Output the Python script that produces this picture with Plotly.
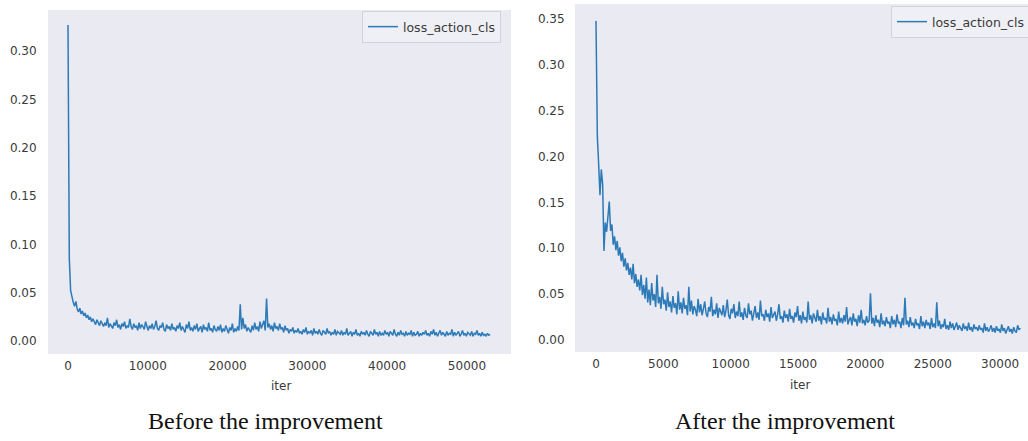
import plotly.graph_objects as go

# ---------------- data ----------------
series_name = "loss_action_cls"
x_title = "iter"
captions = ["Before the improvement", "After the improvement"]

before_last_iter = 52900
before_loss = [
    0.327, 0.085, 0.052, 0.044, 0.040, 0.036, 0.041, 0.033, 0.030, 0.034, 0.028, 0.031, 0.026, 0.029, 0.024, 0.027,
    0.022, 0.025, 0.020, 0.023, 0.019, 0.017, 0.022, 0.018, 0.016, 0.021, 0.017, 0.015, 0.019, 0.016, 0.024, 0.014,
    0.018, 0.015, 0.013, 0.019, 0.016, 0.022, 0.014, 0.017, 0.012, 0.018, 0.015, 0.020, 0.013, 0.016, 0.014, 0.023,
    0.015, 0.012, 0.018, 0.014, 0.016, 0.011, 0.019, 0.013, 0.017, 0.015, 0.012, 0.020, 0.014, 0.011, 0.016, 0.013,
    0.018, 0.012, 0.015, 0.021, 0.013, 0.011, 0.016, 0.014, 0.019, 0.012, 0.010, 0.017, 0.013, 0.015, 0.011, 0.018,
    0.012, 0.014, 0.010, 0.016, 0.013, 0.019, 0.011, 0.015, 0.012, 0.009, 0.017, 0.013, 0.020, 0.011, 0.014, 0.010,
    0.016, 0.012, 0.018, 0.010, 0.013, 0.015, 0.009, 0.017, 0.012, 0.014, 0.010, 0.019, 0.011, 0.013, 0.009, 0.016,
    0.012, 0.010, 0.015, 0.011, 0.017, 0.009, 0.013, 0.010, 0.016, 0.012, 0.008, 0.014, 0.011, 0.018, 0.009, 0.013,
    0.010, 0.015, 0.011, 0.038, 0.012, 0.024, 0.013, 0.017, 0.010, 0.014, 0.012, 0.009, 0.016, 0.011, 0.019, 0.012,
    0.015, 0.010, 0.020, 0.013, 0.017, 0.021, 0.011, 0.044, 0.014, 0.018, 0.012, 0.016, 0.010, 0.019, 0.013, 0.015,
    0.011, 0.018, 0.012, 0.014, 0.009, 0.016, 0.011, 0.013, 0.008, 0.012, 0.010, 0.014, 0.008, 0.011, 0.009, 0.013,
    0.008, 0.010, 0.007, 0.012, 0.009, 0.014, 0.007, 0.010, 0.008, 0.011, 0.006, 0.013, 0.008, 0.010, 0.007, 0.012,
    0.008, 0.006, 0.011, 0.009, 0.007, 0.013, 0.008, 0.010, 0.006, 0.009, 0.007, 0.012, 0.006, 0.010, 0.008, 0.007,
    0.011, 0.006, 0.009, 0.007, 0.013, 0.006, 0.008, 0.010, 0.005, 0.009, 0.007, 0.012, 0.006, 0.008, 0.005, 0.010,
    0.007, 0.009, 0.006, 0.011, 0.007, 0.005, 0.010, 0.008, 0.006, 0.012, 0.007, 0.009, 0.005, 0.010, 0.006, 0.008,
    0.006, 0.011, 0.007, 0.009, 0.005, 0.010, 0.008, 0.006, 0.012, 0.007, 0.005, 0.009, 0.006, 0.011, 0.007, 0.008,
    0.005, 0.010, 0.006, 0.008, 0.007, 0.011, 0.005, 0.009, 0.006, 0.007, 0.010, 0.005, 0.008, 0.006, 0.009, 0.007,
    0.011, 0.006, 0.008, 0.005, 0.010, 0.007, 0.012, 0.006, 0.009, 0.005, 0.008, 0.011, 0.006, 0.009, 0.007, 0.005,
    0.010, 0.006, 0.008, 0.007, 0.012, 0.005, 0.009, 0.006, 0.008, 0.010, 0.005, 0.007, 0.011, 0.006, 0.008, 0.005,
    0.009, 0.007, 0.006, 0.010, 0.005, 0.008, 0.007, 0.011, 0.006, 0.008, 0.005, 0.009, 0.006, 0.007, 0.005, 0.008,
    0.006, 0.007,
]

after_last_iter = 31500
after_loss = [
    0.348, 0.222, 0.192, 0.158, 0.186, 0.170, 0.097, 0.128, 0.118, 0.131, 0.151, 0.119, 0.126, 0.104, 0.113, 0.098,
    0.108, 0.092, 0.101, 0.086, 0.095, 0.080, 0.089, 0.076, 0.084, 0.071, 0.079, 0.066, 0.083, 0.062, 0.072, 0.058,
    0.066, 0.054, 0.071, 0.049, 0.060, 0.045, 0.068, 0.041, 0.055, 0.038, 0.062, 0.043, 0.050, 0.036, 0.071, 0.040,
    0.047, 0.034, 0.058, 0.039, 0.044, 0.032, 0.052, 0.036, 0.042, 0.030, 0.048, 0.035, 0.040, 0.028, 0.053, 0.033,
    0.041, 0.029, 0.046, 0.034, 0.038, 0.027, 0.058, 0.031, 0.043, 0.028, 0.037, 0.033, 0.026, 0.045, 0.030, 0.039,
    0.027, 0.034, 0.042, 0.029, 0.025, 0.036, 0.031, 0.047, 0.026, 0.033, 0.028, 0.040, 0.024, 0.035, 0.030, 0.027,
    0.038, 0.025, 0.032, 0.044, 0.027, 0.023, 0.034, 0.029, 0.039, 0.024, 0.031, 0.026, 0.042, 0.025, 0.030, 0.022,
    0.035, 0.027, 0.024, 0.040, 0.028, 0.032, 0.021, 0.029, 0.037, 0.024, 0.030, 0.022, 0.043, 0.026, 0.028, 0.021,
    0.033, 0.025, 0.029, 0.020, 0.036, 0.024, 0.027, 0.031, 0.021, 0.028, 0.039, 0.023, 0.026, 0.019, 0.032, 0.024,
    0.028, 0.020, 0.034, 0.023, 0.026, 0.019, 0.030, 0.025, 0.037, 0.021, 0.027, 0.018, 0.031, 0.022, 0.025, 0.019,
    0.042, 0.022, 0.027, 0.018, 0.029, 0.023, 0.020, 0.033, 0.021, 0.026, 0.017, 0.030, 0.022, 0.024, 0.018, 0.035,
    0.020, 0.025, 0.017, 0.028, 0.021, 0.023, 0.016, 0.031, 0.019, 0.024, 0.018, 0.027, 0.020, 0.036, 0.017, 0.022,
    0.025, 0.016, 0.029, 0.020, 0.023, 0.015, 0.027, 0.019, 0.033, 0.018, 0.022, 0.016, 0.026, 0.019, 0.021, 0.051,
    0.018, 0.024, 0.015, 0.027, 0.019, 0.022, 0.014, 0.029, 0.017, 0.021, 0.015, 0.025, 0.018, 0.020, 0.013, 0.026,
    0.017, 0.022, 0.014, 0.028, 0.018, 0.020, 0.013, 0.024, 0.016, 0.046, 0.017, 0.021, 0.014, 0.025, 0.016, 0.019,
    0.013, 0.023, 0.016, 0.018, 0.012, 0.026, 0.015, 0.020, 0.013, 0.022, 0.016, 0.019, 0.012, 0.024, 0.014, 0.018,
    0.013, 0.041, 0.015, 0.021, 0.012, 0.017, 0.014, 0.023, 0.012, 0.016, 0.011, 0.020, 0.013, 0.018, 0.011, 0.015,
    0.019, 0.011, 0.016, 0.013, 0.010, 0.018, 0.012, 0.015, 0.010, 0.019, 0.011, 0.014, 0.009, 0.017, 0.012, 0.014,
    0.010, 0.016, 0.011, 0.013, 0.008, 0.018, 0.010, 0.014, 0.009, 0.012, 0.016, 0.009, 0.013, 0.008, 0.015, 0.010,
    0.012, 0.008, 0.017, 0.010, 0.013, 0.007, 0.011, 0.015, 0.009, 0.012, 0.007, 0.014, 0.010, 0.008, 0.016, 0.011,
    0.013,
]

before_xticks = [0, 10000, 20000, 30000, 40000, 50000]
before_yticks = [0.00, 0.05, 0.10, 0.15, 0.20, 0.25, 0.30]
after_xticks = [0, 5000, 10000, 15000, 20000, 25000, 30000]
after_yticks = [0.00, 0.05, 0.10, 0.15, 0.20, 0.25, 0.30, 0.35]

# iteration index for each logged value (evenly logged)
def iters_for(values, last_iter):
    n = len(values)
    return [last_iter * i / (n - 1) for i in range(n)]

before_iter = iters_for(before_loss, before_last_iter)
after_iter = iters_for(after_loss, after_last_iter)

# ---------------- figure ----------------
W, H = 1028, 441
LINE = "#2c7ab7"
BG = "#eaeaf2"
TXT = "#3a3a3a"
TICKFONT = dict(family="DejaVu Sans", size=12, color=TXT)

def px_x(p):
    return p / W

def px_y(p):
    return 1 - p / H

fig = go.Figure()
fig.add_trace(go.Scatter(x=before_iter, y=before_loss, mode="lines", name=series_name,
                         line=dict(color=LINE, width=1.5), xaxis="x", yaxis="y", legend="legend"))
fig.add_trace(go.Scatter(x=after_iter, y=after_loss, mode="lines", name=series_name,
                         line=dict(color=LINE, width=1.5), xaxis="x2", yaxis="y2", legend="legend2"))

common_x = dict(showgrid=False, zeroline=False, showline=False, ticks="outside", ticklen=1,
                tickcolor="rgba(0,0,0,0)", tickfont=TICKFONT)
common_y = dict(showgrid=False, zeroline=False, showline=False, ticks="outside", ticklen=8,
                tickcolor="rgba(0,0,0,0)", tickfont=TICKFONT)

legend_style = dict(bgcolor="rgba(240,240,246,0.9)", bordercolor="#d2d2da", borderwidth=1,
                    font=dict(family="DejaVu Sans", size=12.5, color=TXT),
                    xanchor="left", yanchor="top", itemclick=False)

fig.update_layout(
    width=W, height=H,
    margin=dict(l=0, r=0, t=0, b=0, autoexpand=False),
    paper_bgcolor="white", plot_bgcolor=BG,
    xaxis=dict(domain=[px_x(48), px_x(511)], range=[-2506, 55520], tickvals=before_xticks,
               ticktext=[str(v) for v in before_xticks], anchor="y", **common_x),
    yaxis=dict(domain=[px_y(354), px_y(10)], range=[-0.0134, 0.3424], tickvals=before_yticks,
               ticktext=[f"{v:.2f}" for v in before_yticks], anchor="x", **common_y),
    xaxis2=dict(domain=[px_x(575), 1.0], range=[-1559, 32071], tickvals=after_xticks,
                ticktext=[str(v) for v in after_xticks], anchor="y2", **common_x),
    yaxis2=dict(domain=[px_y(352), px_y(4)], range=[-0.0131, 0.3664], tickvals=after_yticks,
                ticktext=[f"{v:.2f}" for v in after_yticks], anchor="x2",
                **{**common_y, "ticklen": 7}),
    legend=dict(x=px_x(362), y=px_y(11), **legend_style),
    legend2=dict(x=px_x(891), y=px_y(6), **legend_style),
    showlegend=True,
)

def label(text, xp, yp, font):
    return dict(text=text, x=px_x(xp), y=px_y(yp), xref="paper", yref="paper",
                xanchor="center", yanchor="middle", showarrow=False, font=font)

axis_font = dict(family="DejaVu Sans", size=12, color=TXT)
cap_font = dict(family="Liberation Serif", size=24, color="#111111")
fig.update_layout(annotations=[
    label(x_title, 281, 386, axis_font),
    label(x_title, 800, 385, axis_font),
    label(captions[0], 265, 421, cap_font),
    label(captions[1], 785, 421, cap_font),
])

fig.write_html("out.html", config={"displayModeBar": False},
               post_script="document.body.style.margin='0';document.body.style.padding='0';")
